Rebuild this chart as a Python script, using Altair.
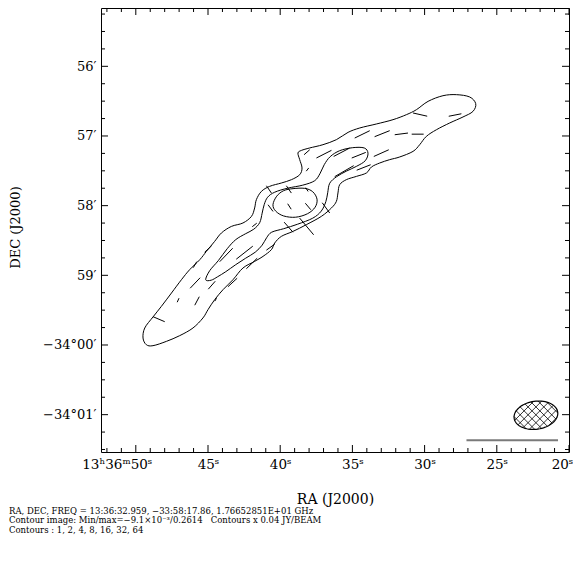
import math
import numpy as np
import pandas as pd
import altair as alt

# ---------------- data (RA in seconds of 13h36m, Dec offset in arcmin north of -34d00m) ----------------
outer_ra = [49.50, 49.38, 48.81, 48.23, 47.53, 46.84, 46.27, 45.57, 45.11, 44.54,
            44.07, 43.38, 42.58, 41.99, 41.77, 41.65, 41.30, 40.73, 39.92, 39.22,
            38.65, 38.49, 38.65, 38.77, 38.53, 37.96, 37.04, 36.11, 35.30, 34.49,
            33.34, 32.19, 31.26, 30.57, 29.76, 28.73, 27.80, 26.88, 26.46, 26.65,
            27.34, 28.26, 29.18, 29.88, 30.34, 30.80, 31.72, 32.42, 33.11, 33.68,
            34.03, 34.72, 35.42, 35.88, 36.00, 36.11, 36.45, 37.15, 38.19, 39.11,
            39.92, 40.38, 40.61, 41.19, 41.77, 42.58, 43.27, 43.96, 44.54, 45.00,
            45.35, 46.04, 46.96, 47.88, 48.81, 49.27]
outer_dec = [0.100, 0.244, 0.402, 0.554, 0.746, 0.937, 1.081, 1.224, 1.344, 1.487,
             1.608, 1.702, 1.751, 1.846, 1.967, 2.086, 2.205, 2.277, 2.325, 2.373,
             2.444, 2.541, 2.660, 2.756, 2.793, 2.828, 2.875, 2.947, 3.052, 3.115,
             3.172, 3.234, 3.306, 3.377, 3.497, 3.578, 3.593, 3.560, 3.464, 3.353,
             3.273, 3.187, 3.090, 2.994, 2.875, 2.779, 2.699, 2.660, 2.612, 2.555,
             2.469, 2.420, 2.373, 2.301, 2.182, 2.061, 1.967, 1.846, 1.727, 1.631,
             1.559, 1.464, 1.368, 1.272, 1.200, 1.105, 0.937, 0.794, 0.650, 0.507,
             0.388, 0.244, 0.134, 0.052, -0.010, 0.004]

mid_ra = [45.16, 44.88, 44.29, 43.67, 43.08, 42.39, 41.83, 41.42, 41.25, 41.11,
          40.87, 40.38, 39.48, 38.44, 37.61, 37.23, 36.95, 36.54, 35.88, 34.98,
          34.18, 33.92, 34.11, 34.70, 35.42, 36.09, 36.57, 36.71, 36.84, 37.16,
          37.75, 38.79, 39.76, 40.59, 40.94, 41.25, 41.73, 42.39, 43.08, 43.77,
          44.33, 44.78]
mid_dec = [0.937, 1.067, 1.210, 1.382, 1.512, 1.598, 1.662, 1.756, 1.892, 2.014,
           2.121, 2.193, 2.251, 2.294, 2.358, 2.466, 2.588, 2.703, 2.789, 2.832,
           2.828, 2.753, 2.645, 2.566, 2.495, 2.416, 2.322, 2.186, 2.057, 1.921,
           1.820, 1.734, 1.669, 1.619, 1.540, 1.433, 1.332, 1.246, 1.153, 1.052,
           0.980, 0.930]

core_ra = [40.50, 40.24, 39.76, 39.11, 38.30, 37.75, 37.45, 37.58, 38.10, 38.93, 39.76, 40.31]
core_dec = [2.014, 2.136, 2.215, 2.244, 2.248, 2.200, 2.093, 1.978, 1.885, 1.834, 1.852, 1.921]

# polarisation vectors: centre RA (s), centre Dec offset ('), position angle (deg), length (")
vec_ra = [30.31, 27.89, 34.32, 32.94, 31.61, 30.48, 38.15, 36.97, 35.74, 34.56, 33.00, 38.11, 35.57, 34.22,
          40.78, 39.40, 38.15, 40.67, 39.36, 38.07, 36.83, 39.42, 38.17,
          48.40, 47.07, 45.76, 45.89, 44.74, 44.47, 43.30, 45.90, 44.99, 43.74, 42.47, 41.97, 40.67, 41.78]
vec_dec = [3.307, 3.301, 3.023, 3.033, 3.030, 3.026, 2.767, 2.739, 2.767, 2.724, 2.754, 2.518, 2.495, 2.548,
           2.233, 2.233, 2.231, 1.965, 1.988, 1.988, 1.968, 1.691, 1.702,
           0.370, 0.643, 0.632, 0.890, 0.858, 0.650, 0.897, 1.153, 1.378, 1.292, 1.325, 1.170, 1.404, 1.723]
vec_pa = [77.3, -78.9, -64.0, -68.2, -82.7, 90.0, -48.7, -63.1, -62.3, -68.2, -65.9, -38.0, -59.9, -68.6,
          34.4, 34.4, 31.9, 36.7, 32.5, 40.2, 36.1, 41.3, 40.0,
          66.9, -24.2, -27.9, -43.6, -41.2, -29.5, -47.3, -30.3, -47.1, -43.9, -51.8, -45.8, -54.1, -52.1]
vec_len = [12.5, 11.1, 14.4, 14.0, 11.5, 10.3, 6.5, 14.5, 15.6, 13.0, 14.1, 3.5, 18.9, 12.9,
           7.6, 7.6, 3.8, 7.2, 5.6, 7.3, 10.9, 11.5, 18.8,
           10.9, 3.8, 8.3, 12.5, 9.1, 2.9, 10.8, 5.9, 8.3, 16.1, 18.1, 13.0, 8.8, 4.9]

# restoring beam: centre, major/minor FWHM (arcsec), position angle (deg)
beam_ra, beam_dec = 22.29, -1.008
beam_maj, beam_min, beam_pa = 37.9, 24.1, -82.0
hatch_step = 4.8  # arcsec between hatch lines

# vector scale bar
scalebar_ra = [27.10, 20.76]
scalebar_dec = [-1.369]

x_tick_values = [50, 45, 40, 35, 30, 25, 20]
x_tick_labels = ['13ʰ36ᵐ50ˢ', '45ˢ', '40ˢ', '35ˢ', '30ˢ', '25ˢ', '20ˢ']
y_tick_values = [4, 3, 2, 1, 0, -1]
y_tick_labels = ['56′', '57′', '58′', '59′', '−34°00′', '−34°01′']
x_minor_values = [v for v in range(21, 53) if v % 5 != 0]
y_minor_values = [q / 4 for q in range(-6, 20) if q % 4 != 0]

info_lines = [
    'RA, DEC, FREQ = 13:36:32.959, −33:58:17.86, 1.76652851E+01 GHz',
    'Contour image: Min/max=−9.1×10⁻³/0.2614\u00a0\u00a0\u00a0Contours x 0.04 JY/BEAM',
    'Contours : 1, 2, 4, 8, 16, 32, 64',
]

# ---------------- derived tables ----------------
ARCSEC_PER_S = 15.0 * math.cos(math.radians(33.97))

def contour_df(ra, dec, level):
    return pd.DataFrame({'ra': ra, 'dec': dec, 'level': level, 'idx': range(len(ra))})

contours = pd.concat([contour_df(outer_ra, outer_dec, 'c1'),
                      contour_df(mid_ra, mid_dec, 'c2'),
                      contour_df(core_ra, core_dec, 'c3')])

pa = np.radians(vec_pa)
half = np.array(vec_len) / 2.0
dn = half * np.cos(pa) / 60.0
de = half * np.sin(pa) / ARCSEC_PER_S
vecs = pd.DataFrame({'ra': np.array(vec_ra) + de, 'ra2': np.array(vec_ra) - de,
                     'dec': np.array(vec_dec) + dn, 'dec2': np.array(vec_dec) - dn})

A, B = beam_maj / 2.0, beam_min / 2.0
bp = math.radians(beam_pa)
a_hat = np.array([-math.sin(bp), math.cos(bp)])   # (west, north) unit vector of major axis
b_hat = np.array([math.cos(bp), math.sin(bp)])

def to_sky(u, v):
    return beam_ra - u / ARCSEC_PER_S, beam_dec + v / 60.0

tt = np.linspace(0, 2 * np.pi, 73)
eu = A * np.cos(tt) * a_hat[0] + B * np.sin(tt) * b_hat[0]
ev = A * np.cos(tt) * a_hat[1] + B * np.sin(tt) * b_hat[1]
er, ed = to_sky(eu, ev)
beam_df = pd.DataFrame({'ra': er, 'dec': ed, 'idx': range(len(er))})

hatch_rows = []
for d in (np.array([1.0, 1.0]) / math.sqrt(2), np.array([1.0, -1.0]) / math.sqrt(2)):
    n = np.array([-d[1], d[0]])
    c = -A
    while c <= A:
        x0, y0 = c * n @ a_hat, c * n @ b_hat
        dx, dy = d @ a_hat, d @ b_hat
        qa = dx * dx / A ** 2 + dy * dy / B ** 2
        qb = 2 * (x0 * dx / A ** 2 + y0 * dy / B ** 2)
        qc = x0 * x0 / A ** 2 + y0 * y0 / B ** 2 - 1
        disc = qb * qb - 4 * qa * qc
        if disc > 0:
            s1 = (-qb - math.sqrt(disc)) / (2 * qa)
            s2 = (-qb + math.sqrt(disc)) / (2 * qa)
            p1 = c * n + s1 * d
            p2 = c * n + s2 * d
            r1, d1 = to_sky(p1[0], p1[1])
            r2, d2 = to_sky(p2[0], p2[1])
            hatch_rows.append({'ra': r1, 'ra2': r2, 'dec': d1, 'dec2': d2})
        c += hatch_step
hatch_df = pd.DataFrame(hatch_rows)

# ---------------- chart ----------------
FONT = 'DejaVu Serif'
W, H = 468, 444
xs = alt.Scale(domain=[20.0, 52.41], reverse=True, nice=False, zero=False)
ys = alt.Scale(domain=[-1.536, 4.837], nice=False, zero=False)


def label_expr(values, labels):
    expr = "''"
    for v, l in zip(values, labels):
        expr = f"datum.value == {v} ? '{l}' : ({expr})"
    return expr

xaxis = alt.Axis(values=x_tick_values, labelExpr=label_expr(x_tick_values, x_tick_labels),
                 ticks=False, domain=False, grid=False,
                 labelFont=FONT, labelFontSize=13.5, labelColor='black', labelPadding=12,
                 labelBaseline='middle', labelFlush=False, labelOverlap=False,
                 labelOffset={'condition': [{'test': 'datum.value == 50', 'value': -19},
                                            {'test': 'datum.value == 20', 'value': -7}],
                              'value': 0},
                 title='RA (J2000)', titleFont=FONT, titleFontSize=14, titleFontWeight='normal',
                 titleColor='black', titleX=W / 2, titleY=47, titleBaseline='middle', titleAlign='center')
yaxis = alt.Axis(values=y_tick_values, labelExpr=label_expr(y_tick_values, y_tick_labels),
                 ticks=False, domain=False, grid=False,
                 labelFont=FONT, labelFontSize=13, labelColor='black', labelPadding=5,
                 labelAlign='right', labelBaseline='middle', labelFlush=False,
                 labelOverlap=False,
                 title='DEC (J2000)', titleFont=FONT, titleFontSize=13, titleFontWeight='normal',
                 titleColor='black', titleX=-86, titleY=219, titleAngle=270,
                 titleBaseline='middle', titleAlign='center')

X = lambda f: alt.X(f, scale=xs, axis=xaxis)
Y = lambda f: alt.Y(f, scale=ys, axis=yaxis)

contour_layer = alt.Chart(contours).mark_line(color='black', strokeWidth=1,
                                              interpolate='cardinal-closed').encode(
    x=X('ra:Q'), y=Y('dec:Q'), detail='level:N', order='idx:Q')

vec_layer = alt.Chart(vecs).mark_rule(color='black', strokeWidth=1).encode(
    x=X('ra:Q'), x2='ra2:Q', y=Y('dec:Q'), y2='dec2:Q')

beam_layer = alt.Chart(beam_df).mark_line(color='black', strokeWidth=1.2).encode(
    x=X('ra:Q'), y=Y('dec:Q'), order='idx:Q')

hatch_layer = alt.Chart(hatch_df).mark_rule(color='black', strokeWidth=0.8).encode(
    x=X('ra:Q'), x2='ra2:Q', y=Y('dec:Q'), y2='dec2:Q')

bar_layer = alt.Chart(pd.DataFrame({'ra': [scalebar_ra[0]], 'ra2': [scalebar_ra[1]],
                                    'dec': scalebar_dec})).mark_rule(
    color='#7a7a7a', strokeWidth=2).encode(x=X('ra:Q'), x2='ra2:Q', y=Y('dec:Q'))


def x_ticks(vals, L):
    base = alt.Chart(pd.DataFrame({'ra': vals})).mark_rule(color='black', strokeWidth=1)
    return [base.encode(x=X('ra:Q'), y=alt.value(H), y2=alt.value(H - L)),
            base.encode(x=X('ra:Q'), y=alt.value(0), y2=alt.value(L))]


def y_ticks(vals, L):
    base = alt.Chart(pd.DataFrame({'dec': vals})).mark_rule(color='black', strokeWidth=1)
    return [base.encode(y=Y('dec:Q'), x=alt.value(0), x2=alt.value(L)),
            base.encode(y=Y('dec:Q'), x=alt.value(W), x2=alt.value(W - L))]

tick_layers = x_ticks(x_tick_values, 7) + x_ticks(x_minor_values, 4) + \
    y_ticks(y_tick_values, 7) + y_ticks(y_minor_values, 4)

text_layers = []
for i, line in enumerate(info_lines):
    text_layers.append(
        alt.Chart(pd.DataFrame({'txt': [line]})).mark_text(
            align='left', baseline='middle', font=FONT, fontSize=8.5, color='black').encode(
            text='txt:N', x=alt.value(-92), y=alt.value(502.5 + 9.5 * i)))

chart = alt.layer(contour_layer, vec_layer, beam_layer, hatch_layer, bar_layer,
                  *tick_layers, *text_layers).properties(
    width=W, height=H, autosize='none',
    padding={'left': 93, 'top': 0, 'right': 4, 'bottom': 100}
).configure_view(stroke='black', strokeWidth=1)

chart.save('out.html', embed_options={'renderer': 'svg', 'actions': False})
